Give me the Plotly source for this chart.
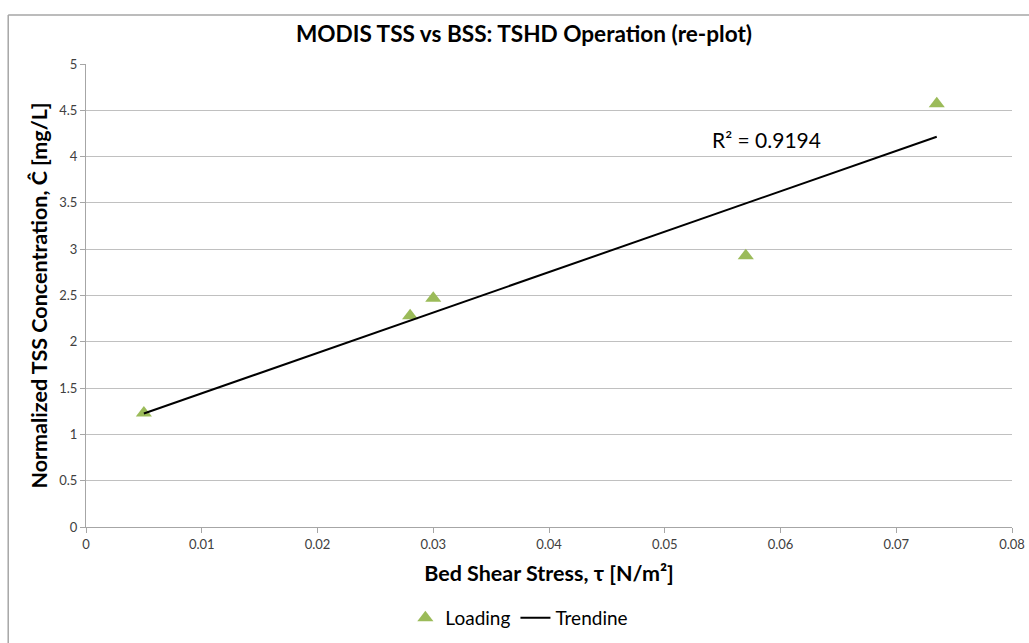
import numpy as np
import plotly.graph_objects as go

# Data
bed_shear_stress = [0.005, 0.028, 0.030, 0.057, 0.0735]
tss_normalized = [1.23, 2.28, 2.47, 2.93, 4.57]
r_squared_label = "R² = 0.9194"

x_ticks = [0, 0.01, 0.02, 0.03, 0.04, 0.05, 0.06, 0.07, 0.08]
x_tick_text = ["0", "0.01", "0.02", "0.03", "0.04", "0.05", "0.06", "0.07", "0.08"]
y_ticks = [0, 0.5, 1, 1.5, 2, 2.5, 3, 3.5, 4, 4.5, 5]
y_tick_text = ["0", "0.5", "1", "1.5", "2", "2.5", "3", "3.5", "4", "4.5", "5"]

FONT = "Lato, 'Open Sans', sans-serif"
GRID = "#c0c0c0"

# Linear trendline fitted to the points
slope, intercept = np.polyfit(bed_shear_stress, tss_normalized, 1)
trend_x = [min(bed_shear_stress), max(bed_shear_stress)]
trend_y = [slope * v + intercept for v in trend_x]

fig = go.Figure()

fig.add_trace(go.Scatter(
    x=bed_shear_stress,
    y=tss_normalized,
    mode="markers",
    name="Loading",
    marker=dict(symbol="triangle-up", size=14, color="#9bbb59"),
))

fig.add_trace(go.Scatter(
    x=trend_x,
    y=trend_y,
    mode="lines",
    name="Trendine",
    line=dict(color="black", width=2),
))

fig.add_annotation(
    x=0.0588, y=4.18, xref="x", yref="y",
    text=r_squared_label, showarrow=False,
    font=dict(family=FONT, size=21, color="black"),
)

# Chart area frame
fig.add_shape(type="line", xref="paper", yref="paper",
              x0=-0.084, x1=1.02, y0=1.106, y1=1.106,
              line=dict(color="#a6a6a6", width=1.5))
fig.add_shape(type="line", xref="paper", yref="paper",
              x0=-0.084, x1=-0.084, y0=-0.3, y1=1.106,
              line=dict(color="#a6a6a6", width=1.5))

fig.update_layout(
    width=1029,
    height=643,
    margin=dict(l=86, r=17, t=64, b=116),
    paper_bgcolor="white",
    plot_bgcolor="white",
    font=dict(family=FONT, color="#404040"),
    title=dict(
        text="<b>MODIS TSS vs BSS: TSHD Operation (re-plot)</b>",
        x=0.473, xanchor="center", xref="paper",
        y=0.947, yanchor="middle", yref="container",
        font=dict(family=FONT, size=22.6, color="black"),
    ),
    legend=dict(
        orientation="h", x=0.468, xanchor="center", xref="paper",
        y=0.039, yanchor="middle", yref="container",
        font=dict(family=FONT, size=19, color="black"),
        itemwidth=30, tracegroupgap=0,
    ),
    showlegend=True,
)

fig.update_xaxes(
    range=[0, 0.08],
    tickvals=x_ticks, ticktext=x_tick_text,
    showgrid=False, zeroline=False, automargin=False,
    showline=True, linecolor="#a6a6a6", linewidth=1,
    ticks="outside", ticklen=5, tickcolor="#a6a6a6",
    tickfont=dict(family=FONT, size=13, color="#404040"),
    title=dict(text="<b>Bed Shear Stress, τ [N/m²]</b>", standoff=15,
               font=dict(family=FONT, size=21.5, color="black")),
)

fig.update_yaxes(
    range=[0, 5],
    tickvals=y_ticks, ticktext=y_tick_text,
    showgrid=True, gridcolor=GRID, gridwidth=1, zeroline=False, automargin=False,
    showline=True, linecolor="#a6a6a6", linewidth=1,
    ticks="outside", ticklen=5, tickcolor="#a6a6a6",
    tickfont=dict(family=FONT, size=13, color="#404040"),
    title=dict(text="<b>Normalized TSS Concentration, Ĉ [mg/L]</b>", standoff=5,
               font=dict(family=FONT, size=21.5, color="black")),
)

# drop the page's default body margin so the figure fills the window
fig.write_html("out.html",
               config={"displayModeBar": False},
               post_script="document.body.style.margin='0';document.body.style.overflow='hidden';")
